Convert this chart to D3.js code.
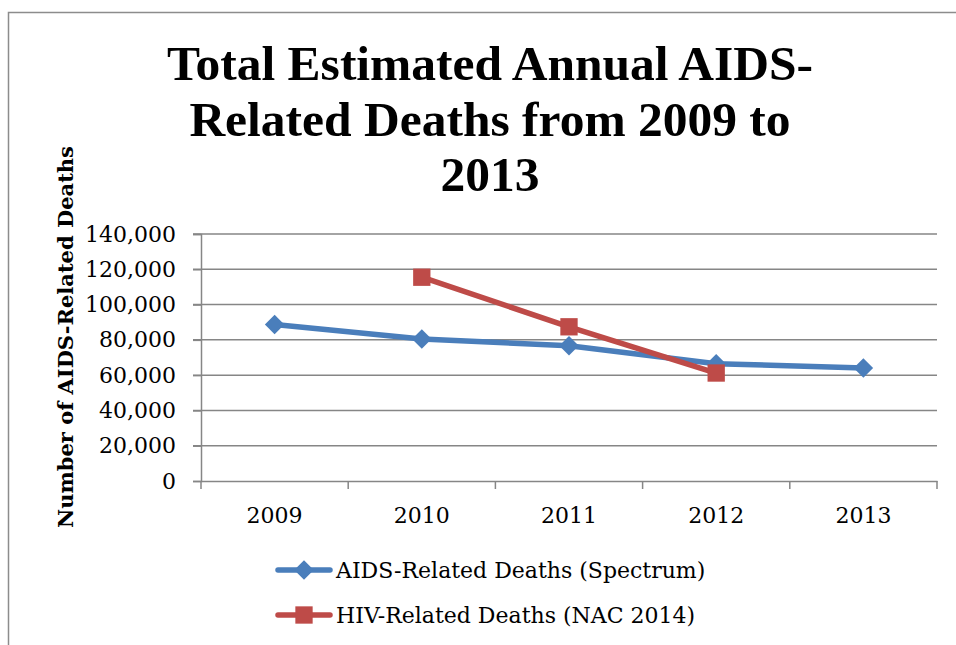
<!DOCTYPE html>
<html>
<head>
<meta charset="utf-8">
<script src="https://cdn.jsdelivr.net/npm/d3@7"></script>
<style>
  body { margin: 0; background: #fff; }
  text { font-family: "DejaVu Serif", serif; fill: #000; }
</style>
</head>
<body>
<div id="chart"></div>
<script>
// DATA
const years = ['2009', '2010', '2011', '2012', '2013'];
const spectrum = [88700, 80500, 76700, 66500, 64000];
const nac = [null, 115500, 87400, 61200, null];
const yTicks = [0, 20000, 40000, 60000, 80000, 100000, 120000, 140000];
const titleLines = ['Total Estimated Annual AIDS-', 'Related Deaths from 2009 to', '2013'];
const seriesNames = ['AIDS-Related Deaths (Spectrum)', 'HIV-Related Deaths (NAC 2014)'];

const colors = ['#4a7ebb', '#be4b48'];

document.addEventListener('DOMContentLoaded', function(){
  drawChart();
});

function drawChart() {
  const W = 956, H = 645;
  const margin = {left: 201, top: 234, right: 19, bottom: 164};
  const svg = d3.select('#chart').append('svg')
    .attr('width', W).attr('height', H);

  // outer frame
  svg.append('rect')
    .attr('x', 8.5).attr('y', 12.5)
    .attr('width', W + 20).attr('height', H + 20)
    .style('fill', 'none').style('stroke', '#8c8c8c').style('stroke-width', 1.5);

  const x = d3.scaleBand().domain(years).range([margin.left, W - margin.right]);
  const y = d3.scaleLinear().domain([0, 140000]).range([H - margin.bottom, margin.top]);

  // title
  svg.append('g').selectAll('text')
    .data(titleLines).enter().append('text')
    .attr('x', 490).attr('y', function(d, i) { return 80 + i * 55.5; })
    .attr('text-anchor', 'middle')
    .style('font-family', '"Liberation Serif", serif')
    .style('font-size', '49.5px').style('font-weight', 'bold')
    .text(function(d) { return d; });

  // grid
  svg.append('g').selectAll('line')
    .data(yTicks.slice(1)).enter().append('line')
    .attr('x1', margin.left - 8).attr('x2', W - margin.right)
    .attr('y1', function(d) { return y(d); }).attr('y2', function(d) { return y(d); })
    .style('stroke', '#868686').style('stroke-width', 1.5);

  // y axis
  const yAxis = svg.append('g')
    .attr('transform', 'translate(' + margin.left + ',0)')
    .call(d3.axisLeft(y).tickValues(yTicks).tickSize(8).tickPadding(17).tickFormat(d3.format(',')));
  yAxis.select('.domain').style('stroke', '#868686').style('stroke-width', 1.5);
  yAxis.selectAll('.tick line').style('stroke', '#868686').style('stroke-width', 1.5);
  yAxis.selectAll('.tick text').style('font-size', '22px').style('font-family', '"DejaVu Serif", serif');

  // x axis
  const xAxis = svg.append('g')
    .attr('transform', 'translate(0,' + y(0) + ')')
    .call(d3.axisBottom(x).tickSize(0));
  xAxis.select('.domain').style('stroke', '#868686').style('stroke-width', 1.5);
  xAxis.selectAll('.tick text')
    .attr('y', 42).attr('dy', 0)
    .style('font-size', '22px').style('font-family', '"DejaVu Serif", serif');
  // ticks between categories
  const bounds = years.map(function(d) { return x(d); }).concat([x(years[years.length - 1]) + x.bandwidth()]);
  svg.append('g').selectAll('line')
    .data(bounds).enter().append('line')
    .attr('x1', function(d) { return d; }).attr('x2', function(d) { return d; })
    .attr('y1', y(0)).attr('y2', y(0) + 8)
    .style('stroke', '#868686').style('stroke-width', 1.5);

  // y label
  svg.append('text')
    .attr('transform', 'translate(73,' + 337 + ') rotate(-90)')
    .attr('text-anchor', 'middle')
    .style('font-size', '21px').style('font-weight', 'bold')
    .text('Number of AIDS-Related Deaths');

  const cx = function(i) { return x(years[i]) + x.bandwidth() / 2; };
  const line = d3.line()
    .defined(function(d) { return d != null; })
    .x(function(d, i) { return cx(i); })
    .y(function(d) { return y(d); });

  // square diamond (rotated square) like the spreadsheet marker
  const diamond = d3.symbol().type(d3.symbolSquare).size(190);
  const square = d3.symbol().type(d3.symbolSquare).size(300);
  const markerRot = [45, 0];

  [spectrum, nac].forEach(function(series, s) {
    svg.append('path')
      .datum(series)
      .attr('d', line)
      .style('fill', 'none').style('stroke', colors[s])
      .style('stroke-width', 5.5).style('stroke-linejoin', 'round').style('stroke-linecap', 'round');
    svg.append('g').selectAll('path')
      .data(series.map(function(v, i) { return {v: v, i: i}; }).filter(function(d) { return d.v != null; }))
      .enter().append('path')
      .attr('transform', function(d) { return 'translate(' + cx(d.i) + ',' + y(d.v) + ') rotate(' + markerRot[s] + ')'; })
      .attr('d', s === 0 ? diamond : square)
      .style('fill', colors[s]);
  });

  // legend
  const legend = svg.append('g').selectAll('g')
    .data(seriesNames).enter().append('g')
    .attr('transform', function(d, i) { return 'translate(278,' + (570 + i * 45) + ')'; });
  legend.append('line')
    .attr('x1', 0).attr('x2', 52)
    .style('stroke', function(d, i) { return colors[i]; })
    .style('stroke-width', 5.5).style('stroke-linecap', 'round');
  legend.append('path')
    .attr('transform', function(d, i) { return 'translate(26,0) rotate(' + markerRot[i] + ')'; })
    .attr('d', function(d, i) { return i === 0 ? diamond() : square(); })
    .style('fill', function(d, i) { return colors[i]; });
  legend.append('text')
    .attr('x', 58).attr('y', 8)
    .style('font-size', '22px')
    .text(function(d) { return d; });
}
</script>
</body>
</html>
